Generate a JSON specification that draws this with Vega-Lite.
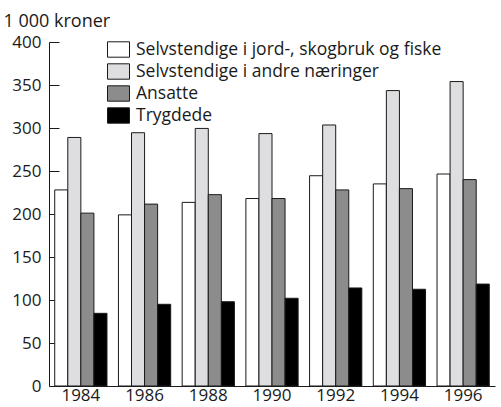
{
  "$schema": "https://vega.github.io/schema/vega-lite/v6.json",
  "width": 446,
  "height": 344,
  "autosize": {"type": "none"},
  "padding": {"left": 49, "top": 42, "right": 6, "bottom": 21},
  "background": "white",
  "config": {
    "view": {"stroke": null},
    "font": "Open Sans",
    "axis": {"labelFont": "Open Sans", "labelColor": "#1a1a1a", "labelFontSize": 17, "domainColor": "#1a1a1a", "tickColor": "#1a1a1a", "grid": false}
  },
  "data": {
    "values": [
      {"year": "1984", "group": "Selvstendige i jord-, skogbruk og fiske", "value": 228},
      {"year": "1984", "group": "Selvstendige i andre næringer", "value": 289},
      {"year": "1984", "group": "Ansatte", "value": 201},
      {"year": "1984", "group": "Trygdede", "value": 84.5},
      {"year": "1986", "group": "Selvstendige i jord-, skogbruk og fiske", "value": 199},
      {"year": "1986", "group": "Selvstendige i andre næringer", "value": 294.5},
      {"year": "1986", "group": "Ansatte", "value": 211.5},
      {"year": "1986", "group": "Trygdede", "value": 95},
      {"year": "1988", "group": "Selvstendige i jord-, skogbruk og fiske", "value": 213.5},
      {"year": "1988", "group": "Selvstendige i andre næringer", "value": 299.5},
      {"year": "1988", "group": "Ansatte", "value": 222.5},
      {"year": "1988", "group": "Trygdede", "value": 98},
      {"year": "1990", "group": "Selvstendige i jord-, skogbruk og fiske", "value": 218},
      {"year": "1990", "group": "Selvstendige i andre næringer", "value": 293.5},
      {"year": "1990", "group": "Ansatte", "value": 218},
      {"year": "1990", "group": "Trygdede", "value": 102},
      {"year": "1992", "group": "Selvstendige i jord-, skogbruk og fiske", "value": 244.5},
      {"year": "1992", "group": "Selvstendige i andre næringer", "value": 303.5},
      {"year": "1992", "group": "Ansatte", "value": 228},
      {"year": "1992", "group": "Trygdede", "value": 114},
      {"year": "1994", "group": "Selvstendige i jord-, skogbruk og fiske", "value": 235},
      {"year": "1994", "group": "Selvstendige i andre næringer", "value": 343.5},
      {"year": "1994", "group": "Ansatte", "value": 229.5},
      {"year": "1994", "group": "Trygdede", "value": 112.5},
      {"year": "1996", "group": "Selvstendige i jord-, skogbruk og fiske", "value": 246.5},
      {"year": "1996", "group": "Selvstendige i andre næringer", "value": 354},
      {"year": "1996", "group": "Ansatte", "value": 240},
      {"year": "1996", "group": "Trygdede", "value": 118.5}
    ]
  },
  "mark": {"type": "bar", "stroke": "#1a1a1a", "strokeWidth": 1},
  "encoding": {
    "x": {
      "field": "year", "type": "nominal",
      "scale": {"paddingInner": 0.18, "paddingOuter": 0.09},
      "axis": {"title": null, "ticks": false, "labelAngle": 0, "labelPadding": 1}
    },
    "xOffset": {
      "field": "group", "type": "nominal",
      "sort": ["Selvstendige i jord-, skogbruk og fiske", "Selvstendige i andre næringer", "Ansatte", "Trygdede"]
    },
    "y": {
      "field": "value", "type": "quantitative",
      "scale": {"domain": [0, 400], "nice": false, "zero": true},
      "axis": {
        "values": [0, 50, 100, 150, 200, 250, 300, 350, 400],
        "tickSize": -10,
        "labelPadding": 18,
        "title": "1 000 kroner",
        "titleAngle": 0,
        "titleAlign": "left",
        "titleBaseline": "alphabetic",
        "titleX": -46,
        "titleY": -16,
        "titleFontSize": 18,
        "titleFontWeight": "normal",
        "titleColor": "#1a1a1a",
        "titleFont": "Open Sans"
      }
    },
    "fill": {
      "field": "group", "type": "nominal",
      "sort": ["Selvstendige i jord-, skogbruk og fiske", "Selvstendige i andre næringer", "Ansatte", "Trygdede"],
      "scale": {
        "domain": ["Selvstendige i jord-, skogbruk og fiske", "Selvstendige i andre næringer", "Ansatte", "Trygdede"],
        "range": ["#ffffff", "#dedee0", "#8c8c8c", "#000000"]
      },
      "legend": {
        "title": null,
        "orient": "none",
        "legendX": 58,
        "legendY": -4,
        "padding": 0,
        "symbolType": "M-1,-0.7H1V0.7H-1Z",
        "symbolSize": 484,
        "symbolStrokeColor": "#1a1a1a",
        "symbolStrokeWidth": 1,
        "symbolOpacity": 1,
        "labelFontSize": 17.5,
        "labelColor": "#1a1a1a",
        "labelFont": "Open Sans",
        "labelOffset": 6,
        "rowPadding": -0.5,
        "labelLimit": 400
      }
    }
  }
}
